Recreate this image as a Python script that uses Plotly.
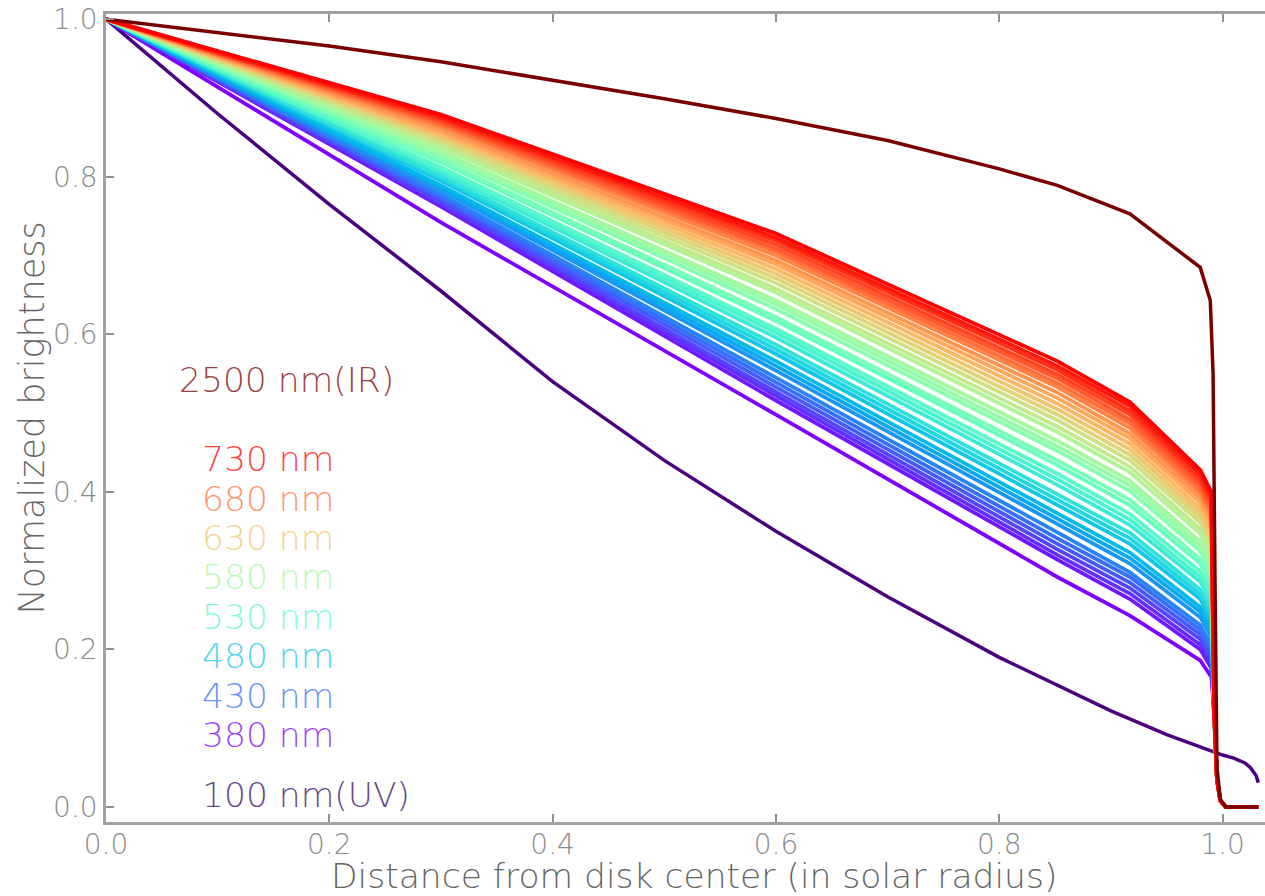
import numpy as np
import plotly.graph_objects as go

# Radial positions (in solar radii) shared by the visible-band curves
R_CENTER = [0.0]
R_KNOTS = [0.3, 0.6, 0.852, 0.917, 0.98, 0.99]
R_TAIL = [0.9925, 0.995, 0.998, 1.003, 1.032]
I_CENTER = [1.0]
I_TAIL = [0.12, 0.035, 0.008, 0.0, 0.0]

# Visible wavelengths (nm) and their normalized brightness at R_KNOTS
WAVELENGTHS = [380, 390, 400, 410, 420, 430, 440, 450, 460, 470, 480, 490,
               500, 510, 520, 530, 540, 550, 560, 570, 580, 590, 600, 610,
               620, 630, 640, 650, 660, 670, 680, 690, 700, 710, 720, 730]
BRIGHTNESS = [
    [0.742, 0.498, 0.292, 0.243, 0.186, 0.165],  # 380
    [0.762, 0.516, 0.314, 0.264, 0.200, 0.176],  # 390
    [0.765, 0.522, 0.320, 0.271, 0.206, 0.182],  # 400
    [0.768, 0.527, 0.327, 0.278, 0.213, 0.188],  # 410
    [0.772, 0.533, 0.334, 0.285, 0.219, 0.194],  # 420
    [0.775, 0.539, 0.341, 0.292, 0.225, 0.200],  # 430
    [0.778, 0.545, 0.348, 0.298, 0.231, 0.206],  # 440
    [0.783, 0.554, 0.359, 0.309, 0.241, 0.216],  # 450
    [0.786, 0.560, 0.366, 0.316, 0.248, 0.222],  # 460
    [0.789, 0.566, 0.373, 0.323, 0.254, 0.229],  # 470
    [0.795, 0.575, 0.384, 0.334, 0.264, 0.238],  # 480
    [0.798, 0.581, 0.391, 0.341, 0.270, 0.244],  # 490
    [0.801, 0.587, 0.398, 0.348, 0.276, 0.251],  # 500
    [0.806, 0.596, 0.409, 0.358, 0.286, 0.260],  # 510
    [0.809, 0.602, 0.416, 0.365, 0.292, 0.267],  # 520
    [0.812, 0.607, 0.423, 0.372, 0.299, 0.273],  # 530
    [0.818, 0.617, 0.434, 0.383, 0.309, 0.282],  # 540
    [0.821, 0.622, 0.440, 0.390, 0.315, 0.289],  # 550
    [0.826, 0.632, 0.452, 0.401, 0.325, 0.298],  # 560
    [0.829, 0.638, 0.458, 0.408, 0.331, 0.304],  # 570
    [0.832, 0.643, 0.465, 0.414, 0.337, 0.311],  # 580
    [0.837, 0.653, 0.476, 0.425, 0.347, 0.320],  # 590
    [0.841, 0.658, 0.483, 0.432, 0.353, 0.327],  # 600
    [0.844, 0.665, 0.491, 0.440, 0.361, 0.334],  # 610
    [0.848, 0.671, 0.498, 0.447, 0.367, 0.340],  # 620
    [0.851, 0.677, 0.505, 0.454, 0.373, 0.346],  # 630
    [0.854, 0.683, 0.512, 0.461, 0.379, 0.352],  # 640
    [0.857, 0.689, 0.519, 0.468, 0.386, 0.358],  # 650
    [0.860, 0.694, 0.526, 0.474, 0.392, 0.365],  # 660
    [0.864, 0.700, 0.533, 0.481, 0.398, 0.371],  # 670
    [0.866, 0.705, 0.538, 0.487, 0.403, 0.376],  # 680
    [0.869, 0.709, 0.544, 0.492, 0.408, 0.380],  # 690
    [0.871, 0.714, 0.549, 0.498, 0.413, 0.385],  # 700
    [0.874, 0.719, 0.555, 0.503, 0.418, 0.390],  # 710
    [0.876, 0.723, 0.560, 0.509, 0.423, 0.395],  # 720
    [0.879, 0.728, 0.566, 0.514, 0.428, 0.400],  # 730
]

# Infrared (2500 nm) profile
IR_R = [0.0, 0.1, 0.2, 0.3, 0.4, 0.5, 0.6, 0.7, 0.8, 0.852, 0.917, 0.98,
        0.989, 0.9915, 0.9935, 0.995, 0.998, 1.003, 1.032]
IR_I = [1.0, 0.983, 0.966, 0.946, 0.923, 0.899, 0.874, 0.846, 0.810, 0.789,
        0.753, 0.685, 0.643, 0.55, 0.25, 0.05, 0.01, 0.0, 0.0]

# Ultraviolet (100 nm) profile
UV_R = [0.0, 0.1, 0.2, 0.3, 0.4, 0.5, 0.6, 0.7, 0.8, 0.9, 0.95, 0.99, 1.0,
        1.01, 1.02, 1.025, 1.03, 1.032]
UV_I = [1.0, 0.88, 0.765, 0.655, 0.54, 0.44, 0.35, 0.267, 0.19, 0.122,
        0.092, 0.071, 0.066, 0.062, 0.056, 0.05, 0.04, 0.031]

LABEL_WAVELENGTHS = [730, 680, 630, 580, 530, 480, 430, 380]
LABEL_Y = [0.4415, 0.3915, 0.3415, 0.2915, 0.2415, 0.1915, 0.1415, 0.0915]

IR_COLOR = "#7a0000"
UV_COLOR = "#4b0082"
FONT = "DejaVu Sans ExtraLight, DejaVu Sans Light, DejaVu Sans"
LABEL_SIZE = 34.5


def rainbow_rgb(v):
    """Matplotlib-style 'rainbow' colormap, returns 0-255 components."""
    r = min(1.0, abs(2 * v - 0.5))
    g = max(0.0, np.sin(np.pi * v))
    b = max(0.0, np.cos(np.pi * v / 2))
    return 255 * r, 255 * g, 255 * b


def wl_color(wl, alpha=1.0):
    r, g, b = rainbow_rgb((wl - 380) / (730 - 380))
    return "rgba({:.0f},{:.0f},{:.0f},{})".format(r, g, b, alpha)


fig = go.Figure()

fig.add_trace(go.Scatter(x=UV_R, y=UV_I, mode="lines",
                         line=dict(color=UV_COLOR, width=3.5)))

for wl, row in zip(WAVELENGTHS, BRIGHTNESS):
    fig.add_trace(go.Scatter(x=R_CENTER + R_KNOTS + R_TAIL,
                             y=I_CENTER + row + I_TAIL,
                             mode="lines",
                             line=dict(color=wl_color(wl), width=3.8)))

fig.add_trace(go.Scatter(x=IR_R, y=IR_I, mode="lines",
                         line=dict(color=IR_COLOR, width=3.5)))

annotations = [
    dict(x=0.0636, y=0.5415, text="2500 nm(IR)",
         font=dict(color="rgba(122,0,0,0.75)", size=LABEL_SIZE, family=FONT)),
    dict(x=0.084, y=0.015, text="100 nm(UV)",
         font=dict(color="rgba(60,20,110,0.8)", size=LABEL_SIZE, family=FONT)),
]
for wl, yv in zip(LABEL_WAVELENGTHS, LABEL_Y):
    annotations.append(dict(x=0.084, y=yv, text=f"{wl} nm",
                            font=dict(color=wl_color(wl, 0.75), size=LABEL_SIZE, family=FONT)))
for a in annotations:
    a.update(xref="x", yref="y", xanchor="left", yanchor="middle", showarrow=False)

annotations.append(dict(text="Distance from disk center (in solar radius)",
                        xref="paper", yref="paper", x=0.507, y=-0.067,
                        xanchor="center", yanchor="middle", showarrow=False,
                        borderpad=0,
                        font=dict(size=34.5, color="#666666", family=FONT)))
annotations.append(dict(text="Normalized brightness",
                        xref="paper", yref="paper", x=-0.0635, y=0.5,
                        xanchor="center", yanchor="middle", showarrow=False,
                        textangle=-90, borderpad=0,
                        font=dict(size=35, color="#666666", family=FONT)))

axis_common = dict(showgrid=False, zeroline=False, showline=True,
                   linecolor="#a0a0a0", linewidth=2.5,
                   ticks="inside", ticklen=8, tickwidth=1.5, tickcolor="#909090",
                   tickfont=dict(size=28, color="#8a8a8a", family=FONT),
                   tickformat=".1f")

fig.update_layout(
    width=1265, height=896,
    margin=dict(l=106, r=0, t=14, b=74),
    plot_bgcolor="white", paper_bgcolor="white",
    showlegend=False,
    annotations=annotations,
    xaxis=dict(range=[0, 1.038], tickvals=[0, 0.2, 0.4, 0.6, 0.8, 1.0],
               mirror="ticks", ticklabelstandoff=-4, **axis_common),
    yaxis=dict(range=[-0.019, 1.0066], tickvals=[0, 0.2, 0.4, 0.6, 0.8, 1.0],
               **axis_common),
)

fig.write_html("out.html")
